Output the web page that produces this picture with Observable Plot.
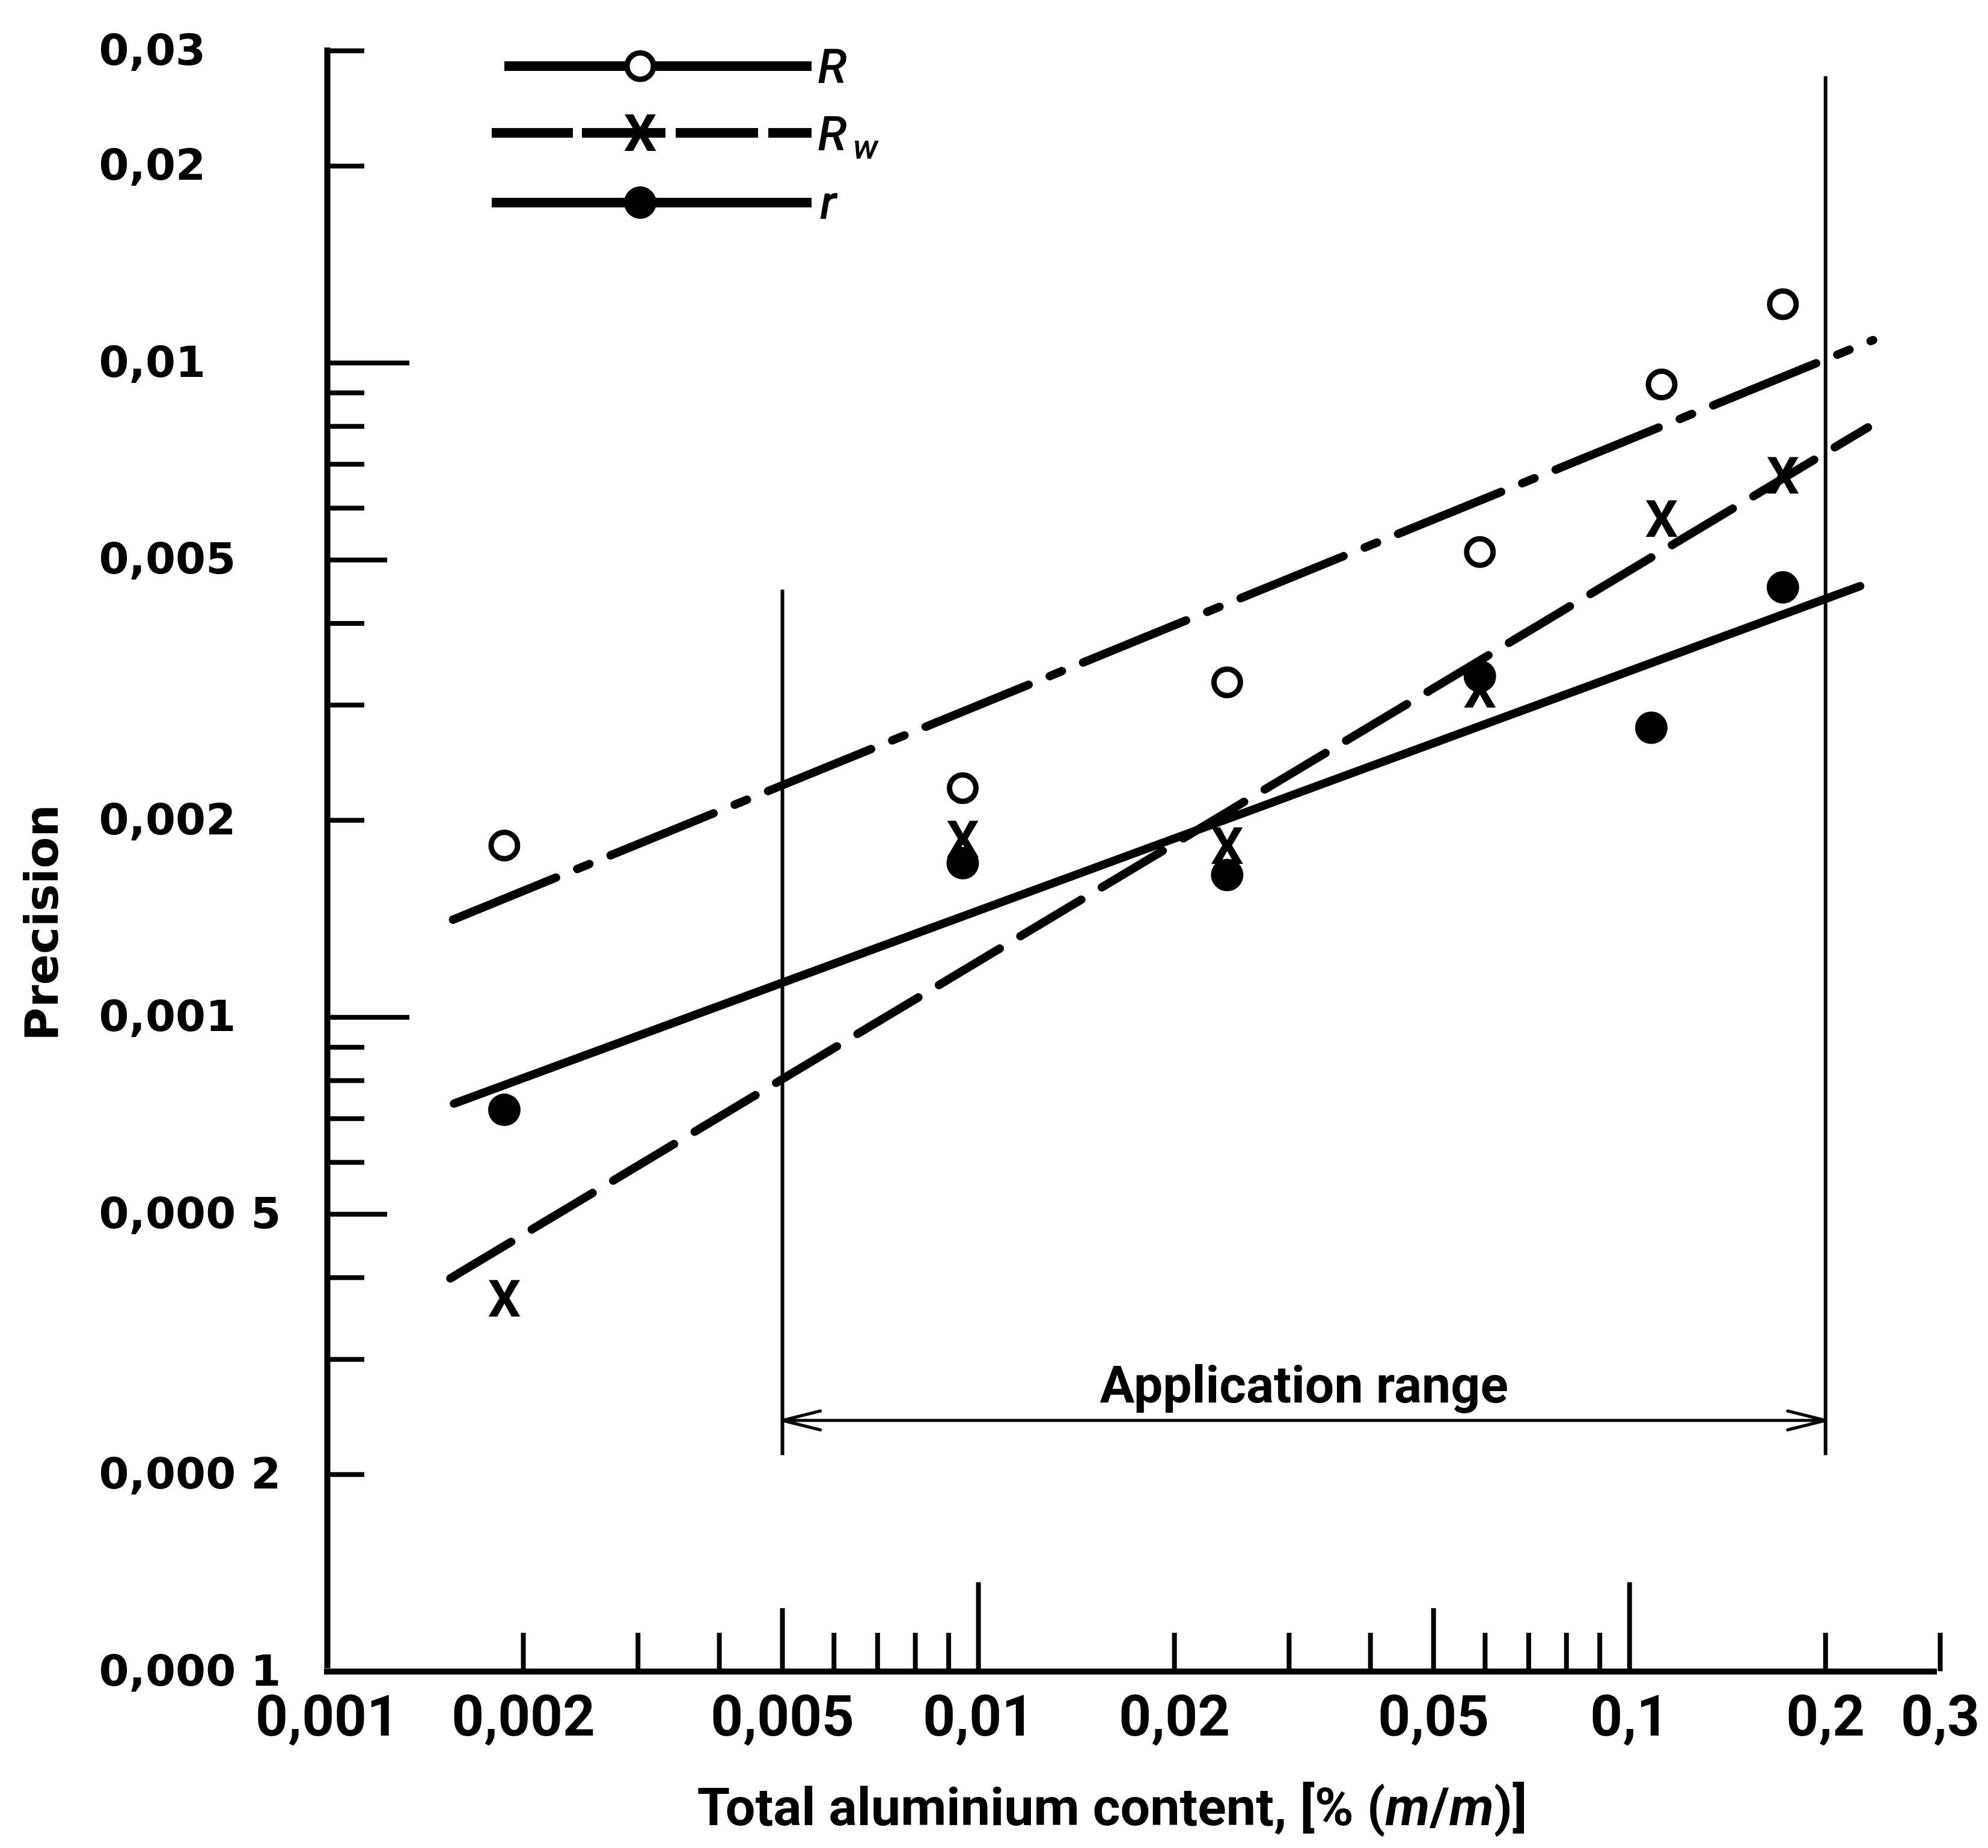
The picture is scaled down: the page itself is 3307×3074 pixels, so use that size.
<!DOCTYPE html>
<html>
<head>
<meta charset="utf-8">
<script src="https://cdn.jsdelivr.net/npm/d3@7"></script>
<script src="https://cdn.jsdelivr.net/npm/@observablehq/plot@0.6"></script>
<style>
html, body { margin: 0; padding: 0; background: #fff; }
#wrap { position: relative; width: 3307px; height: 3074px; overflow: hidden; background: #fff; }
#wrap > svg { position: absolute; left: 0; top: 0; }
#xtitle { position: absolute; left: 1850px; top: 2962px; transform: translateX(-50%); white-space: nowrap;
  font-family: Roboto, "DejaVu Sans", sans-serif;
  font-weight: bold; font-size: 88px; line-height: 1; color: #000; }
#xtitle i { font-style: italic; }
</style>
</head>
<body>
<div id="wrap"><div id="xtitle">Total aluminium content, [% (<i>m</i>/<i>m</i>)]</div></div>
<script>
// ---------- data ----------
const xTickValues = [0.001, 0.002, 0.005, 0.01, 0.02, 0.05, 0.1, 0.2, 0.3];
const xTickLabels = ["0,001", "0,002", "0,005", "0,01", "0,02", "0,05", "0,1", "0,2", "0,3"];
const yTickValues = [0.0001, 0.0002, 0.0005, 0.001, 0.002, 0.005, 0.01, 0.02, 0.03];
const yTickLabels = ["0,000 1", "0,000 2", "0,000 5", "0,001", "0,002", "0,005", "0,01", "0,02", "0,03"];

const xTicksShort = [0.002, 0.003, 0.004, 0.006, 0.007, 0.008, 0.009, 0.02, 0.03, 0.04, 0.06, 0.07, 0.08, 0.09, 0.2, 0.3];
const xTicksMedium = [0.005, 0.05];
const xTicksLong = [0.01, 0.1];
const yTicksShort = [0.0002, 0.0003, 0.0004, 0.0006, 0.0007, 0.0008, 0.0009, 0.002, 0.003, 0.004, 0.006, 0.007, 0.008, 0.009, 0.02, 0.03];
const yTicksMedium = [0.0005, 0.005];
const yTicksLong = [0.001, 0.01];

// reproducibility R (open circles)
const R_x = [0.00187, 0.00946, 0.0241, 0.0589, 0.112, 0.172];
const R_y = [0.00183, 0.00224, 0.00325, 0.00514, 0.00927, 0.0123];
// within-laboratory reproducibility Rw (crosses)
const Rw_x = [0.00187, 0.00946, 0.0241, 0.0589, 0.112, 0.172];
const Rw_y = [0.00037, 0.00186, 0.00182, 0.00315, 0.00575, 0.00669];
// repeatability r (filled dots)
const r_x = [0.00187, 0.00946, 0.0241, 0.0589, 0.108, 0.172];
const r_y = [0.000722, 0.00172, 0.00165, 0.00332, 0.00277, 0.00454];

// fitted lines (end points)
const R_fit_x = [0.00156, 0.2366];
const R_fit_y = [0.00141, 0.01084];
const Rw_fit_x = [0.001545, 0.2323];
const Rw_fit_y = [0.000399, 0.00797];
const r_fit_x = [0.001565, 0.226];
const r_fit_y = [0.000738, 0.00456];

// application range
const appRange = [0.005, 0.2];
const appBottom = [0.000214, 0.000214];
const appTop = [0.0045, 0.0274];
const appArrowY = 0.000242;
const appLabelY = 0.000258;
const appLabel = "Application range";

const legendLabels = ["R", "R", "r"];
const yTitle = "Precision";

// ---------- drawing ----------
const W = 3307, H = 3074;
const mL = 544, mR = 80, mT = 84, mB = 294;
const frameW = W - mL - mR, frameH = H - mT - mB;
const FONT_COND = 'Roboto,"DejaVu Sans",sans-serif';
const FONT_WIDE = '"DejaVu Sans","Liberation Sans",sans-serif';
const appMid = Math.sqrt(appRange[0] * appRange[1]);

const chart = Plot.plot({
  width: W, height: H,
  marginLeft: mL, marginRight: mR, marginTop: mT, marginBottom: mB,
  x: {type: "log", domain: [xTickValues[0], xTickValues[xTickValues.length - 1]], axis: null},
  y: {type: "log", domain: [yTickValues[0], yTickValues[yTickValues.length - 1]], axis: null},
  style: {background: "#fff", fontFamily: FONT_COND, color: "#000", overflow: "visible"},
  marks: [
    // tick labels (through the scales)
    Plot.text(xTickValues, {x: d => d, text: xTickLabels, frameAnchor: "bottom", lineAnchor: "top", dy: 40,
      fontSize: 94, fontWeight: "bold", fontFamily: FONT_COND}),
    Plot.text(yTickValues, {y: d => d, text: yTickLabels, frameAnchor: "left", textAnchor: "start", dx: -380,
      fontSize: 72, fontWeight: "bold", fontFamily: FONT_WIDE}),
    // inward ticks
    Plot.tickX(xTicksShort, {insetTop: frameH - 64, strokeWidth: 8}),
    Plot.tickX(xTicksMedium, {insetTop: frameH - 105, strokeWidth: 8}),
    Plot.tickX(xTicksLong, {insetTop: frameH - 148, strokeWidth: 8}),
    Plot.tickY(yTicksShort, {insetRight: frameW - 62, strokeWidth: 8}),
    Plot.tickY(yTicksMedium, {insetRight: frameW - 100, strokeWidth: 8}),
    Plot.tickY(yTicksLong, {insetRight: frameW - 137, strokeWidth: 8}),
    // axis lines
    Plot.ruleX([xTickValues[0]], {y1: yTickValues[0], y2: yTickValues[yTickValues.length - 1], strokeWidth: 10, dy: -5}),
    Plot.ruleY([yTickValues[0]], {x1: xTickValues[0], x2: xTickValues[xTickValues.length - 1], strokeWidth: 10, dx: -5}),
    // application range
    Plot.ruleX(appRange, {x: appRange, y1: appBottom, y2: appTop, strokeWidth: 6}),
    Plot.arrow(appRange, {x1: () => appMid, x2: d => d, y1: () => appArrowY, y2: () => appArrowY,
      strokeWidth: 5, headLength: 19.5, headAngle: 28}),
    Plot.text([appLabel], {x: () => appMid, y: () => appLabelY, text: d => d, lineAnchor: "bottom",
      fontSize: 86, fontWeight: "bold", fontFamily: FONT_COND}),
    // fitted lines
    Plot.line(R_fit_x, {x: R_fit_x, y: R_fit_y, strokeWidth: 14, strokeDasharray: "185,38,22,38", strokeLinecap: "round"}),
    Plot.line(Rw_fit_x, {x: Rw_fit_x, y: Rw_fit_y, strokeWidth: 14, strokeDasharray: "118,40", strokeLinecap: "round"}),
    Plot.line(r_fit_x, {x: r_fit_x, y: r_fit_y, strokeWidth: 14, strokeLinecap: "round"}),
    // points
    Plot.dot(R_x, {x: R_x, y: R_y, r: 22, stroke: "#000", strokeWidth: 9, fill: "#fff"}),
    Plot.text(Rw_x, {x: Rw_x, y: Rw_y, text: () => "X", fontSize: 86, fontWeight: "bold", fontFamily: FONT_COND}),
    Plot.dot(r_x, {x: r_x, y: r_y, r: 27, fill: "#000"})
  ]
});
document.getElementById("wrap").prepend(chart);

// overlay: legend and y title (pixel space)
const lg = d3.select("#wrap").append("svg")
  .attr("width", W).attr("height", H)
  .style("position", "absolute").style("left", 0).style("top", 0).style("pointer-events", "none");
lg.append("text").attr("transform", "translate(96,1535) rotate(-90)").attr("text-anchor", "middle")
  .attr("font-family", FONT_WIDE).attr("font-weight", "bold").attr("font-size", 76).text(yTitle);
const lw = 16;
// row 1: R
lg.append("line").attr("x1", 839).attr("x2", 1040).attr("y1", 110).attr("y2", 110).attr("stroke", "#000").attr("stroke-width", lw);
lg.append("line").attr("x1", 1090).attr("x2", 1350).attr("y1", 110).attr("y2", 110).attr("stroke", "#000").attr("stroke-width", lw);
lg.append("circle").attr("cx", 1065).attr("cy", 110).attr("r", 22).attr("fill", "#fff").attr("stroke", "#000").attr("stroke-width", 9);
// row 2: Rw
[[818, 953], [968, 1107], [1124, 1261], [1278, 1350]].forEach(([a, b]) =>
  lg.append("line").attr("x1", a).attr("x2", b).attr("y1", 221).attr("y2", 221).attr("stroke", "#000").attr("stroke-width", lw));
lg.append("text").attr("x", 1065).attr("y", 221).attr("text-anchor", "middle").attr("dominant-baseline", "central")
  .attr("font-family", FONT_COND).attr("font-weight", "bold").attr("font-size", 86).text("X");
// row 3: r
lg.append("line").attr("x1", 818).attr("x2", 1350).attr("y1", 337).attr("y2", 337).attr("stroke", "#000").attr("stroke-width", lw);
lg.append("circle").attr("cx", 1065).attr("cy", 337).attr("r", 27).attr("fill", "#000");
// labels
const lt = (x, y) => lg.append("text").attr("x", x).attr("y", y).attr("font-family", FONT_COND)
  .attr("font-style", "italic").attr("font-weight", 500).attr("font-size", 80);
lt(1360, 138).text(legendLabels[0]);
const t2 = lt(1360, 250);
t2.append("tspan").text(legendLabels[1]);
t2.append("tspan").attr("font-size", 58).attr("dx", 10).attr("dy", 14).text("w");
lt(1364, 364).text(legendLabels[2]);
</script>
</body>
</html>
